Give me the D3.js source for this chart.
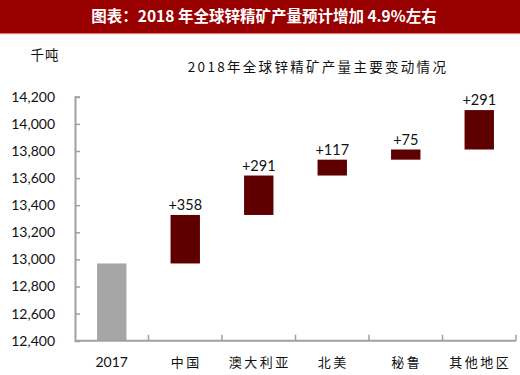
<!DOCTYPE html>
<html><head><meta charset="utf-8">
<script src="https://cdn.jsdelivr.net/npm/d3@7"></script>
<style>
body{margin:0;background:#fff;}
svg{display:block;}
</style></head>
<body><svg id="c" width="520" height="375"></svg>
<script>
const categories = ["2017","中国","澳大利亚","北美","秘鲁","其他地区"];
const baseValue = 12970;
const changes = [358, 291, 117, 75, 291];
const changeLabels = ["+358","+291","+117","+75","+291"];
const yTicks = [12400,12600,12800,13000,13200,13400,13600,13800,14000,14200];
const titleText = "图表：2018 年全球锌精矿产量预计增加 4.9%左右";
const subTitle = "2018年全球锌精矿产量主要变动情况";
const unitText = "千吨";

(function(){
const svg = d3.select("#c");
const W = 520;
const mLeft = 75, mRight = 516, mTop = 96.8, mBottom = 340.7;

// title bar
svg.append("rect").attr("x",0).attr("y",0).attr("width",W).attr("height",33).attr("fill","#990000");
svg.append("rect").attr("x",0).attr("y",33).attr("width",W).attr("height",1.2).attr("fill","#d98080");
svg.append("text").attr("x",264).attr("y",21.5).attr("text-anchor","middle")
  .attr("fill","#fff").attr("font-family","'Noto Sans CJK SC', sans-serif")
  .attr("font-weight","bold").attr("font-size",15.5).attr("xml:space","preserve").text(titleText);

// build rows
const rows = [];
let cum = baseValue;
rows.push({cat:categories[0], y0:yTicks[0], y1:baseValue, base:true});
changes.forEach((c,i)=>{
  rows.push({cat:categories[i+1], y0:cum, y1:cum+c, label:changeLabels[i]});
  cum += c;
});

const x = d3.scaleBand().domain(categories).range([mLeft,mRight]).paddingInner(0.6).paddingOuter(0.3);
const y = d3.scaleLinear().domain([12400,14200]).range([mBottom,mTop]);

// bars
svg.selectAll("rect.bar").data(rows).enter().append("rect")
  .attr("class","bar")
  .attr("x",d=>x(d.cat)).attr("width",x.bandwidth())
  .attr("y",d=>y(d.y1)).attr("height",d=>y(d.y0)-y(d.y1))
  .attr("fill",d=>d.base?"#a6a6a6":"#5e0000");

// labels
svg.selectAll("text.lab").data(rows.filter(d=>d.label)).enter().append("text")
  .attr("class","lab")
  .attr("x",d=>x(d.cat)+x.bandwidth()/2).attr("y",d=>y(d.y1)-5)
  .attr("text-anchor","middle").attr("font-family","Lato, sans-serif").attr("font-size",14.5)
  .attr("fill","#111").text(d=>d.label);

// y axis
const yAxis = d3.axisLeft(y).tickValues(yTicks).tickFormat(d3.format(",")).tickSize(-5).tickPadding(20);
const ya = svg.append("g").attr("transform",`translate(${mLeft},0)`).call(yAxis);
ya.select(".domain").attr("stroke","#a0a0a0").attr("stroke-width",2);
ya.selectAll(".tick line").attr("stroke","#a0a0a0").attr("stroke-width",1.5);
ya.selectAll(".tick text").attr("font-family","Lato, sans-serif").attr("font-size",14).attr("fill","#111");

// x axis
const xBand = d3.scaleBand().domain(categories).range([mLeft,mRight]);
const xa = svg.append("g").attr("transform",`translate(0,${mBottom})`);
xa.append("line").attr("x1",mLeft).attr("x2",mRight).attr("y1",0).attr("y2",0)
  .attr("stroke","#a0a0a0").attr("stroke-width",2);
xa.selectAll("line.t").data(categories.slice(1).concat(["_end"])).enter().append("line")
  .attr("class","t")
  .attr("x1",d=>d==="_end"?mRight:xBand(d)).attr("x2",d=>d==="_end"?mRight:xBand(d))
  .attr("y1",0).attr("y2",-6).attr("stroke","#a0a0a0").attr("stroke-width",1.5);
xa.selectAll("text").data(categories).enter().append("text")
  .attr("x",d=>xBand(d)+xBand.bandwidth()/2 + (d==="2017"?0:1)).attr("y",26)
  .attr("text-anchor","middle")
  .attr("font-family",d=>d==="2017"?"Lato, sans-serif":"'Noto Sans CJK SC', sans-serif")
  .attr("font-size",d=>d==="2017"?14:13)
  .attr("letter-spacing",d=>d==="2017"?0:2.5)
  .attr("fill","#111").text(d=>d);

// unit
svg.append("text").attr("x",45).attr("y",60).attr("text-anchor","middle")
  .attr("font-family","'Noto Sans CJK SC', sans-serif").attr("font-size",13.5).attr("letter-spacing",1).attr("fill","#111").text(unitText);

// subtitle
svg.append("text").attr("x",318).attr("y",72).attr("text-anchor","middle")
  .attr("font-family","'Noto Sans CJK SC', sans-serif").attr("font-size",13.5)
  .attr("letter-spacing",2.3).attr("fill","#111").text(subTitle);
})();
</script></body></html>
